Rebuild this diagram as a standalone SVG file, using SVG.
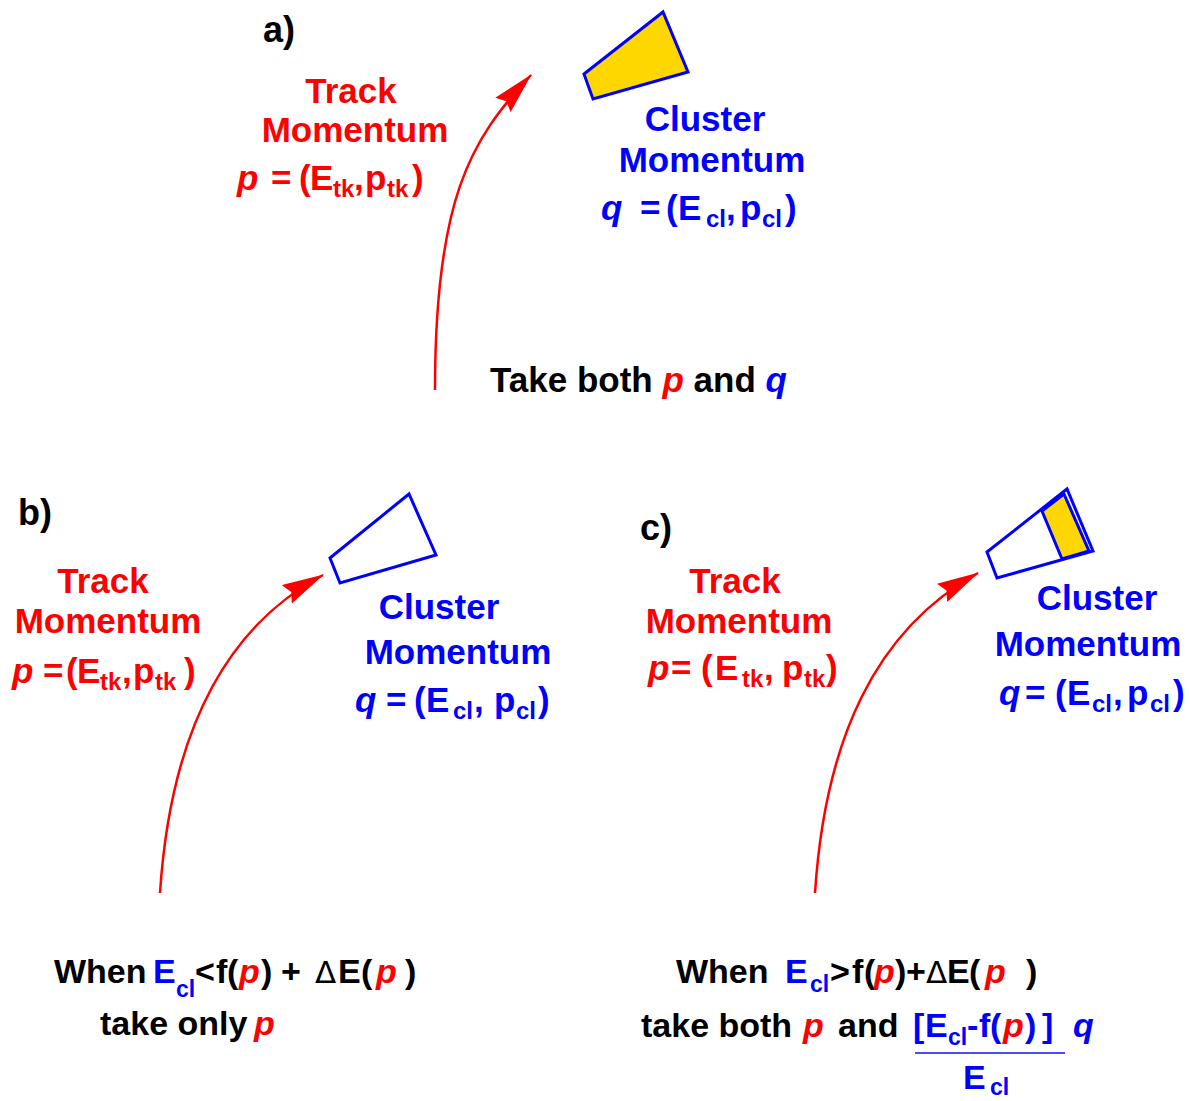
<svg xmlns="http://www.w3.org/2000/svg" width="1190" height="1101" viewBox="0 0 1190 1101">
<defs>
<style>
text{font-family:"Liberation Sans",Arial,sans-serif;font-weight:bold;font-size:35px}
.cap{font-size:34px}
.k{fill:#000}
.r{fill:#FF0000}
.b{fill:#0000FF}
.i{font-style:italic}
.s{font-size:24px}
.s2{font-size:23px}
.d{font-weight:normal;font-family:"DejaVu Sans","Liberation Sans",sans-serif;font-size:31px}
.lbl{font-size:36px;fill:#000}
.cl{stroke:#0000FF;stroke-width:3;stroke-linejoin:miter}
.trk{fill:none;stroke:#FF0000;stroke-width:2.5}
</style>
<marker id="ah" markerUnits="userSpaceOnUse" viewBox="0 0 42 21" refX="41" refY="10.5" markerWidth="42" markerHeight="21" orient="auto">
<path d="M0,0 L42,10.5 L0,21 L5,10.5 Z" fill="#FF0000"/>
</marker>
</defs>
<rect width="1190" height="1101" fill="#fff"/>

<g id="connectors">
<path class="trk" d="M435,390 C435,200 470,140 531,75" marker-end="url(#ah)"/>
<path class="trk" d="M160,893 C170,740 220,630 323,575" marker-end="url(#ah)"/>
<path class="trk" d="M815,893 C825,740 875,630 978,573" marker-end="url(#ah)"/>
</g>

<g id="panel-a">
<text class="lbl" x="263" y="42">a)</text>
<g id="cluster-a"><polygon class="cl" points="584,74 663,12 688,72 593,99" fill="#FFD700"/></g>
<g id="track-label-a">
<text class="r" x="351" y="103" text-anchor="middle">Track</text>
<text class="r" x="355" y="142" text-anchor="middle">Momentum</text>
<text class="r" y="190"><tspan class="i" x="237">p</tspan><tspan x="271">=</tspan><tspan x="299">(</tspan><tspan x="310">E</tspan><tspan class="s" x="333" y="197">tk</tspan><tspan x="354" y="190">,</tspan><tspan x="365">p</tspan><tspan class="s" x="387" y="197">tk</tspan><tspan x="412" y="190">)</tspan></text>
</g>
<g id="cluster-label-a">
<text class="b" x="705" y="131" text-anchor="middle">Cluster</text>
<text class="b" x="712" y="172" text-anchor="middle">Momentum</text>
<text class="b" y="220"><tspan class="i" x="601">q</tspan><tspan x="640">=</tspan><tspan x="666">(</tspan><tspan x="678">E</tspan><tspan class="s" x="706" y="227">cl</tspan><tspan x="726" y="220">,</tspan><tspan x="740">p</tspan><tspan class="s" x="762" y="227">cl</tspan><tspan x="785" y="220">)</tspan></text>
</g>
<g id="caption-a">
<text class="k" x="490" y="392">Take both <tspan class="r i">p</tspan> and <tspan class="b i">q</tspan></text>
</g>
</g>

<g id="panel-b">
<text class="lbl" x="18" y="525">b)</text>
<g id="cluster-b"><polygon class="cl" points="330,558 409,494 436,555 340,583" fill="#fff"/></g>
<g id="track-label-b">
<text class="r" x="103" y="593" text-anchor="middle">Track</text>
<text class="r" x="108" y="633" text-anchor="middle">Momentum</text>
<text class="r" y="683"><tspan class="i" x="12">p</tspan><tspan x="43">=</tspan><tspan x="66">(</tspan><tspan x="77">E</tspan><tspan class="s" x="100" y="690">tk</tspan><tspan x="122" y="683">,</tspan><tspan x="133">p</tspan><tspan class="s" x="155" y="690">tk</tspan><tspan x="184" y="683">)</tspan></text>
</g>
<g id="cluster-label-b">
<text class="b" x="439" y="619" text-anchor="middle">Cluster</text>
<text class="b" x="458" y="664" text-anchor="middle">Momentum</text>
<text class="b" y="712"><tspan class="i" x="355">q</tspan><tspan x="386">=</tspan><tspan x="414">(</tspan><tspan x="426">E</tspan><tspan class="s" x="453" y="719">cl</tspan><tspan x="474" y="712">,</tspan><tspan x="494">p</tspan><tspan class="s" x="516" y="719">cl</tspan><tspan x="538" y="712">)</tspan></text>
</g>
<g id="caption-b">
<text class="k cap" y="983"><tspan x="54">When</tspan><tspan class="b" x="153">E</tspan><tspan class="b s2" x="176" y="997">cl</tspan><tspan x="195" y="983">&lt;</tspan><tspan x="216">f</tspan><tspan x="227">(</tspan><tspan class="r i" x="239">p</tspan><tspan x="261">)</tspan><tspan x="281">+</tspan><tspan class="d" x="315">Δ</tspan><tspan x="338">E</tspan><tspan x="361">(</tspan><tspan class="r i" x="376">p</tspan><tspan x="405">)</tspan></text>
<text class="k cap" y="1035"><tspan x="100">take only</tspan><tspan class="r i" x="254">p</tspan></text>
</g>
</g>

<g id="panel-c">
<text class="lbl" x="640" y="540">c)</text>
<g id="cluster-c">
<polygon class="cl" points="987,552 1067,489 1093,551 997,578" fill="#fff"/>
<polygon class="cl" points="1042,511 1064,494 1089,551 1062,559" fill="#FFD700"/>
</g>
<g id="track-label-c">
<text class="r" x="735" y="593" text-anchor="middle">Track</text>
<text class="r" x="739" y="633" text-anchor="middle">Momentum</text>
<text class="r" y="680"><tspan class="i" x="648">p</tspan><tspan x="671">=</tspan><tspan x="701">(</tspan><tspan x="715">E</tspan><tspan class="s" x="742" y="687">tk</tspan><tspan x="764" y="680">,</tspan><tspan x="782">p</tspan><tspan class="s" x="804" y="687">tk</tspan><tspan x="826" y="680">)</tspan></text>
</g>
<g id="cluster-label-c">
<text class="b" x="1097" y="610" text-anchor="middle">Cluster</text>
<text class="b" x="1088" y="656" text-anchor="middle">Momentum</text>
<text class="b" y="705"><tspan class="i" x="999">q</tspan><tspan x="1025">=</tspan><tspan x="1055">(</tspan><tspan x="1067">E</tspan><tspan class="s" x="1092" y="712">cl</tspan><tspan x="1113" y="705">,</tspan><tspan x="1127">p</tspan><tspan class="s" x="1150" y="712">cl</tspan><tspan x="1173" y="705">)</tspan></text>
</g>
<g id="caption-c">
<text class="k cap" y="983"><tspan x="676">When</tspan><tspan class="b" x="785">E</tspan><tspan class="b s2" x="810" y="992">cl</tspan><tspan x="830" y="983">&gt;</tspan><tspan x="852">f</tspan><tspan x="864">(</tspan><tspan class="r i" x="874">p</tspan><tspan x="895">)</tspan><tspan x="906">+</tspan><tspan class="d" x="926">Δ</tspan><tspan x="947">E</tspan><tspan x="969">(</tspan><tspan class="r i" x="985">p</tspan><tspan x="1026">)</tspan></text>
<text class="k cap" y="1037"><tspan x="641">take both</tspan><tspan class="r i" x="803">p</tspan><tspan x="838">and</tspan><tspan class="b" x="913">[</tspan><tspan class="b" x="925">E</tspan><tspan class="b s2" x="948" y="1045">cl</tspan><tspan class="b" x="967" y="1037">-</tspan><tspan class="b" x="979">f</tspan><tspan class="b" x="990">(</tspan><tspan class="r i" x="1003">p</tspan><tspan class="b" x="1025">)</tspan><tspan class="b" x="1042">]</tspan><tspan class="b i" x="1073">q</tspan></text>
<line x1="915" y1="1053" x2="1065" y2="1053" stroke="#4A4AFF" stroke-width="2"/>
<text class="b cap" y="1089"><tspan x="963">E</tspan><tspan class="s2" x="990" y="1095">cl</tspan></text>
</g>
</g>
</svg>
